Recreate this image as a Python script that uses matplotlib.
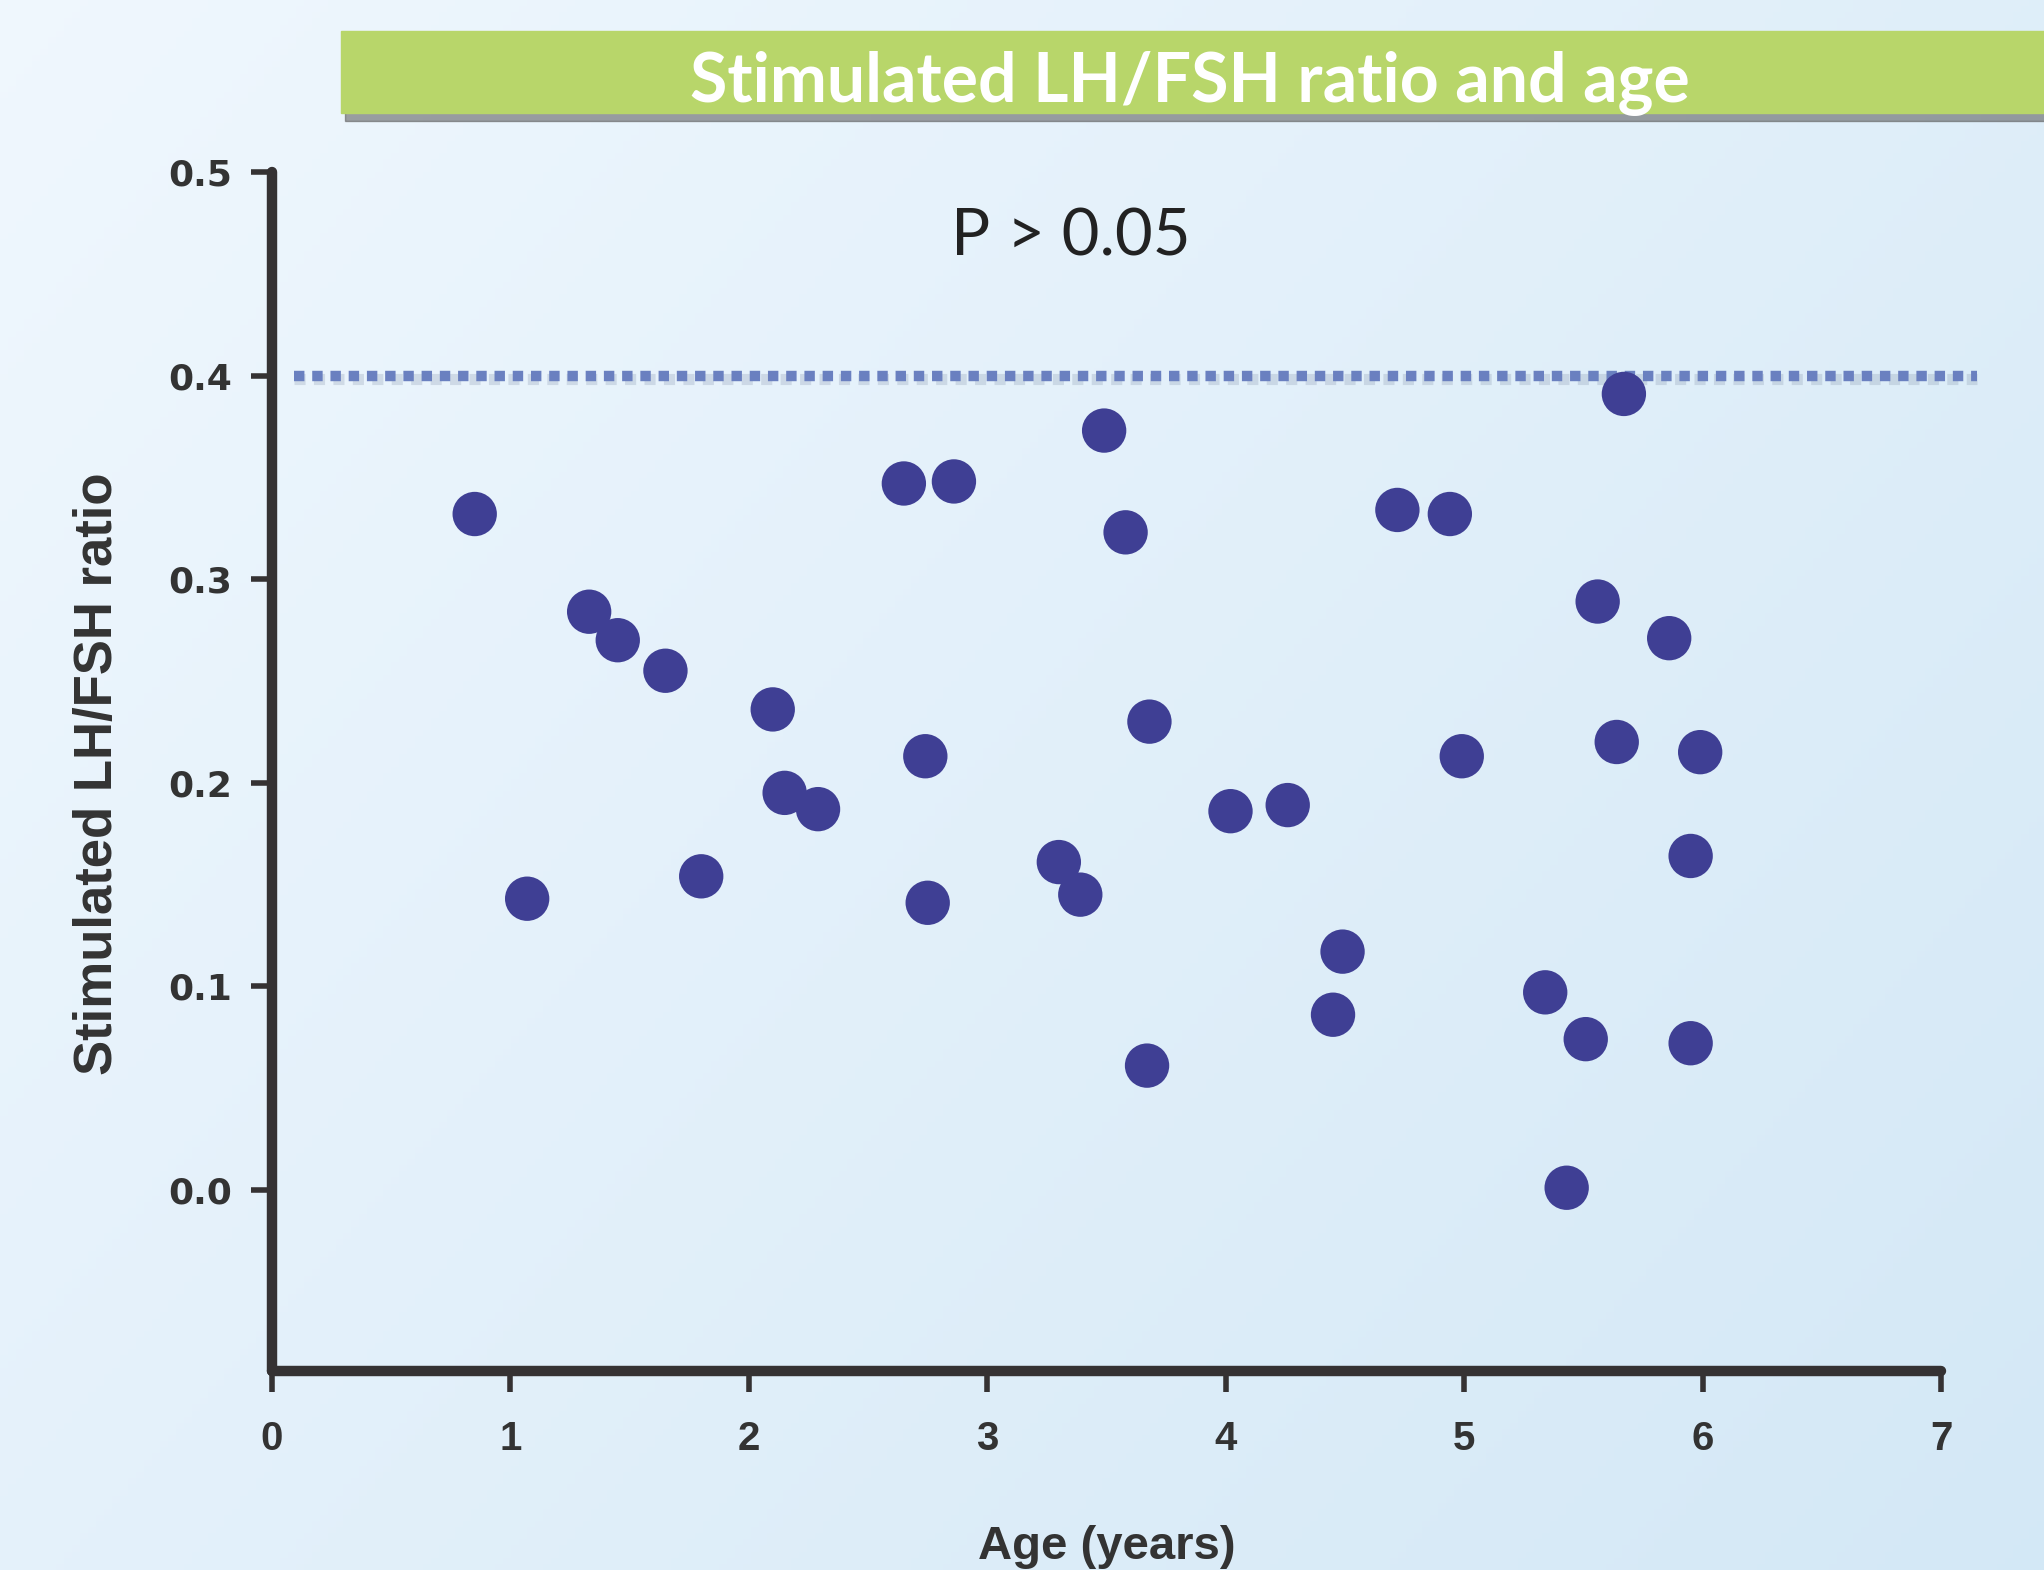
import matplotlib
matplotlib.use('Agg')
import matplotlib.pyplot as plt
import numpy as np
from matplotlib.patches import Rectangle

# dados
idade = [0.85, 1.07, 1.33, 1.45, 1.65, 1.80, 2.10, 2.15, 2.29, 2.65, 2.86, 2.74, 2.75,
         3.49, 3.58, 3.30, 3.39, 3.68, 3.67, 4.02, 4.26, 4.49, 4.45, 4.72, 4.94, 4.99,
         5.34, 5.51, 5.43, 5.67, 5.56, 5.64, 5.86, 5.99, 5.95, 5.95]
razao_lh_fsh = [0.332, 0.143, 0.284, 0.270, 0.255, 0.154, 0.236, 0.195, 0.187, 0.347, 0.348,
                0.213, 0.141, 0.373, 0.323, 0.161, 0.145, 0.230, 0.061, 0.186, 0.189, 0.117,
                0.086, 0.334, 0.332, 0.213, 0.097, 0.074, 0.001, 0.391, 0.289, 0.220, 0.271,
                0.215, 0.164, 0.072]
limite = 0.40
x_ticks = [0, 1, 2, 3, 4, 5, 6, 7]
y_ticks = [0.0, 0.1, 0.2, 0.3, 0.4, 0.5]

titulo = "Stimulated LH/FSH ratio and age"
texto_p = "P > 0.05"

fig = plt.figure(figsize=(20.44, 15.70), dpi=100)

# fundo em gradiente
bg = fig.add_axes([0, 0, 1, 1])
gx, gy = np.meshgrid(np.linspace(0, 1, 256), np.linspace(0, 1, 256))
t = (gx * 0.6 + gy * 0.4)
c1 = np.array([0.94, 0.97, 0.995])
c2 = np.array([0.83, 0.91, 0.965])
img = c1[None, None, :] * (1 - t[..., None]) + c2[None, None, :] * t[..., None]
bg.imshow(img, extent=[0, 1, 0, 1], aspect='auto', origin='upper')
bg.set_xlim(0, 1)
bg.set_ylim(0, 1)
bg.axis('off')

# faixa do título (com sombra)
bg.add_patch(Rectangle((0.169, 0.923), 0.84, 0.052, color='#555555', alpha=0.55, zorder=2))
bg.add_patch(Rectangle((0.167, 0.928), 0.84, 0.052, color='#b8d66a', zorder=3))
bg.text(0.582, 0.947, titulo, ha='center', va='center', color='white',
        fontsize=49, fontweight='bold', family='Lato', zorder=4)

ax = fig.add_axes([0.1331, 0.1268, 0.8165, 0.7636])
ax.patch.set_alpha(0)
ax.set_xlim(0, 7)
ax.set_ylim(-0.089, 0.5)

# linha pontilhada de referência
ax.plot([0.09, 7.15], [limite - 0.0015, limite - 0.0015], color='#7f8ea8', alpha=0.25,
        linewidth=8, dashes=(1.0, 0.75), clip_on=False, zorder=1)
ax.plot([0.09, 7.15], [limite, limite], color='#6a80c0', linewidth=7.5,
        dashes=(1.0, 0.75), clip_on=False, zorder=2)

ax.scatter(idade, razao_lh_fsh, s=1020, color='#3f3f94', edgecolors='none', zorder=3,
           clip_on=False)

ax.text(3.35, 0.468, texto_p, ha='center', va='center', fontsize=47, family='Lato',
        color='#222222')

for s in ['top', 'right']:
    ax.spines[s].set_visible(False)
for s in ['left', 'bottom']:
    ax.spines[s].set_linewidth(7.5)
    ax.spines[s].set_color('#353233')
    ax.spines[s].set_capstyle('round')

ax.set_xticks(x_ticks)
ax.set_yticks(y_ticks)
ax.set_xticklabels([str(v) for v in x_ticks])
ax.set_yticklabels([f"{v:.1f}" for v in y_ticks])
ax.tick_params(axis='both', length=15, width=4, color='#353233', direction='out')
ax.tick_params(axis='x', labelsize=29, pad=20)
ax.tick_params(axis='y', labelsize=26, pad=14)
for lab in ax.get_xticklabels():
    lab.set_fontweight('bold')
    lab.set_family('Liberation Sans')
    lab.set_color('#333333')
for lab in ax.get_yticklabels():
    lab.set_fontweight('bold')
    lab.set_family('DejaVu Sans')
    lab.set_color('#333333')

ax.set_xlabel("Age (years)", fontsize=34, fontweight='bold', family='Liberation Sans',
              color='#333333')
ax.xaxis.set_label_coords(0.5, -0.147)
ax.xaxis.label.set_va('center')
ax.set_ylabel("Stimulated LH/FSH ratio", fontsize=38, fontweight='bold',
              family='Liberation Sans', color='#333333')
ax.yaxis.set_label_coords(-0.104, 0.498)
ax.yaxis.label.set_va('center')

fig.savefig('out.png', dpi=100)
